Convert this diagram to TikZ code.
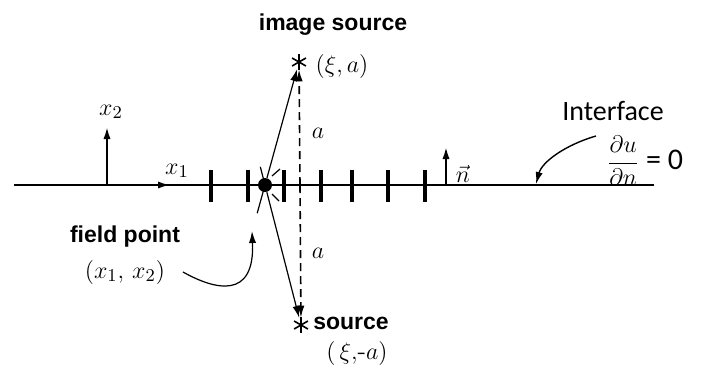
\documentclass[tikz,border=0pt]{standalone}
\usepackage{amsmath,amssymb}
\usepackage{fontspec}
\setsansfont{Liberation Sans}
\newfontfamily\ifacefont{Carlito}
\usetikzlibrary{arrows.meta,calc}

\tikzset{
  lbl/.style={font=\sffamily\bfseries\fontsize{11.5}{13}\selectfont},
  mth/.style={font=\fontsize{13}{15}\selectfont},
  bar/.style={line width=2pt},
  starnode/.style={circle, inner sep=0pt, minimum size=7pt},
}

\begin{document}
\begin{tikzpicture}[x=0.5pt, y=-0.5pt, >={Latex[length=6pt, width=3.6pt]}]
    \useasboundingbox (0,0) rectangle (718,371);
    % interface line
    \coordinate (L) at (14,185);
    \coordinate (R) at (654,185);
    \draw[line width=0.9pt] (L) -- (R);
    % axes
    \coordinate (O) at (107,185);
    \coordinate (x2tip) at (107,127);
    \coordinate (x1tip) at (170,185);
    \draw[->, line width=1pt] (O) -- (x2tip);
    \draw[->, line width=1pt] (O) -- (x1tip);
    \node[mth] (x2) at (111,112) {$x_2$};
    \node[mth] (x1) at (177,171) {$x_1$};
    % boundary elements
    \foreach \t in {211,248,284,321,352,388,425}
      \draw[bar] (\t,170) -- (\t,202);
    % field point
    \node[circle, fill, inner sep=0pt, minimum size=7pt] (F) at (265,185) {};
    % sources
    \node[starnode] (I) at (299,62) {};
    \node[starnode] (S) at (301,325) {};
    \foreach \p in {I,S}
      \foreach \a in {90,30,150}
        \draw[line width=0.8pt] (\p.center) ++(\a:8) -- ++(\a+180:16);
    \draw[->, line width=0.6pt] (F) -- (I);
    \draw[->, line width=0.6pt] (F) -- (S);
    % extensions through the field point
    \draw[line width=0.6pt] (F.center) -- ($(F.center)!-0.23!(I)$);
    \draw[line width=0.6pt] (F.center) -- ($(F.center)!-0.13!(S)$);
    \draw[line width=0.6pt] (272,176) -- (280,169);
    \draw[line width=0.6pt] (272,194) -- (279,201);
    % distance a
    \coordinate (M) at (300,185);
    \draw[dash pattern=on 4pt off 2.5pt, ->, line width=0.8pt] (M) -- (I);
    \draw[dash pattern=on 4pt off 2.5pt, ->, line width=0.8pt] (M) -- (S);
    \node[mth] (aup) at (318,133) {$a$};
    \node[mth] (adn) at (318,253) {$a$};
    % labels
    \node[lbl] (imgsrc) at (333,25) {image source};
    \node[mth] (imgxy) at (342,66) {$(\xi,a)$};
    \node[lbl] (src) at (351,323) {source};
    \node[mth] (srcxy) at (357,353) {$(\,\xi,\!\text{-}a)$};
    \node[lbl] (fp) at (125,237) {field point};
    \node[mth] (fpxy) at (125,272) {$(x_1,\,x_2)$};
    \coordinate (fpa) at (183,272);
    \coordinate (fpb) at (252,231);
    \draw[->, line width=0.6pt] (fpa) .. controls (215,290) and (255,300) .. (fpb);
    % normal
    \coordinate (nb) at (446,185);
    \coordinate (nt) at (446,147);
    \draw[->, line width=1pt] (nb) -- (nt);
    \node[mth] (nvec) at (463,174) {$\vec{n}$};
    % interface label
    \node[font=\ifacefont\fontsize{14}{16}\selectfont] (iface) at (613,111) {Interface};
    \node[font=\ifacefont\fontsize{15}{17}\selectfont] (bc) at (645,161) {{\fontsize{12}{14}\selectfont$\dfrac{\partial u}{\partial n}$} = 0};
    \coordinate (ia) at (596,136);
    \coordinate (ib) at (536,184);
    \draw[->, line width=0.7pt] (ia) .. controls (565,145) and (542,162) .. (ib);
\end{tikzpicture}
\end{document}
